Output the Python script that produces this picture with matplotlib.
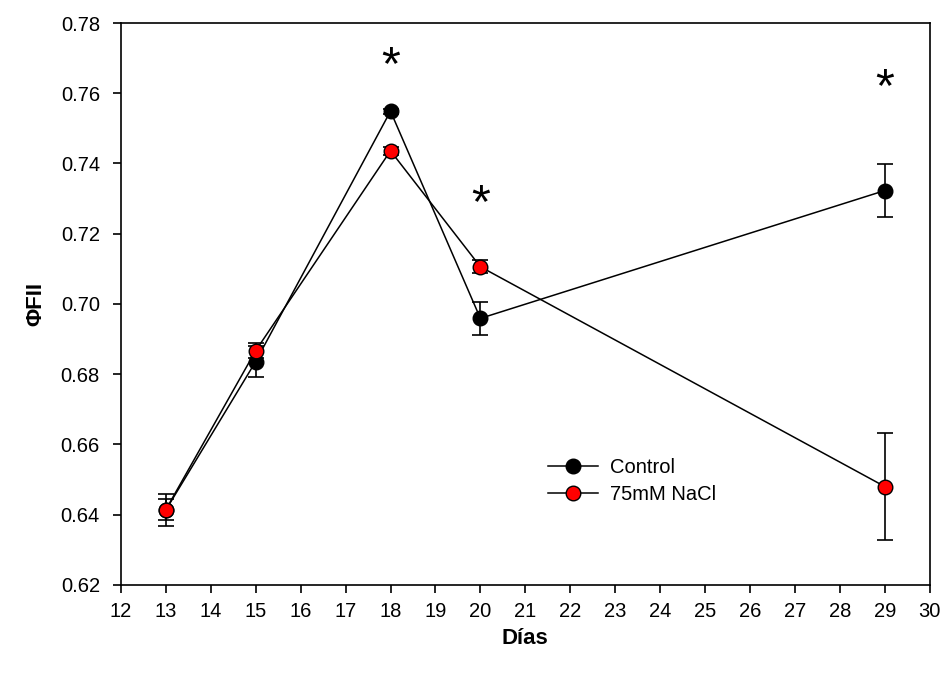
import matplotlib
matplotlib.use("Agg")
import matplotlib.pyplot as plt
from matplotlib.lines import Line2D

plt.rcParams['font.family'] = ['Liberation Sans', 'DejaVu Sans']

dias = [13, 15, 18, 20, 29]
control = [0.6413, 0.6836, 0.7549, 0.6959, 0.7323]
control_err = [0.0045, 0.0045, 0.0007, 0.0048, 0.0075]
nacl = [0.6414, 0.6867, 0.7436, 0.7106, 0.6480]
nacl_err = [0.0030, 0.0021, 0.0012, 0.0018, 0.0152]

# significance marks (day, y position)
star_x = [18, 20, 29]
star_y = [0.7677, 0.7283, 0.7614]

fig = plt.figure(figsize=(9.44, 6.77), dpi=100)
ax = fig.add_axes([0.128, 0.136, 0.857, 0.830])

ax.errorbar(dias, control, yerr=control_err, color='black', marker='o',
            markersize=10.5, markerfacecolor='black', markeredgecolor='black',
            linewidth=1.1, elinewidth=1.2, capsize=5.8, capthick=1.2,
            zorder=3)
ax.errorbar(dias, nacl, yerr=nacl_err, color='black', marker='o',
            markersize=10.5, markerfacecolor='red', markeredgecolor='black',
            linewidth=1.1, elinewidth=1.2, capsize=5.8, capthick=1.2,
            zorder=4)

for x, y in zip(star_x, star_y):
    ax.text(x, y, '*', fontsize=35, ha='center', va='center')

ax.set_xlim(12, 30)
ax.set_ylim(0.62, 0.78)
ax.set_xticks(range(12, 31))
ax.set_yticks([0.62 + 0.02 * i for i in range(9)])
ax.set_yticklabels([f'{0.62 + 0.02 * i:.2f}' for i in range(9)])
ax.tick_params(direction='out', length=6, width=1.2, labelsize=14.5,
               top=False, right=False, pad=6)
ax.tick_params(axis='y', pad=9)
for s in ax.spines.values():
    s.set_linewidth(1.2)

ax.set_xlabel('Días', fontsize=16, fontweight='bold', labelpad=5)
ax.set_ylabel('ΦFII', fontsize=16, fontweight='bold', labelpad=10)

handles = [
    Line2D([], [], color='black', linewidth=1.1, marker='o', markersize=10.5,
           markerfacecolor='black', markeredgecolor='black'),
    Line2D([], [], color='black', linewidth=1.1, marker='o', markersize=10.5,
           markerfacecolor='red', markeredgecolor='black'),
]
ax.legend(handles, ['Control', '75mM NaCl'], loc='upper left',
          bbox_to_anchor=(0.505, 0.258), frameon=False, fontsize=14.5,
          handlelength=2.5, handletextpad=0.6, labelspacing=0.4)

fig.savefig('out.png', dpi=100)
